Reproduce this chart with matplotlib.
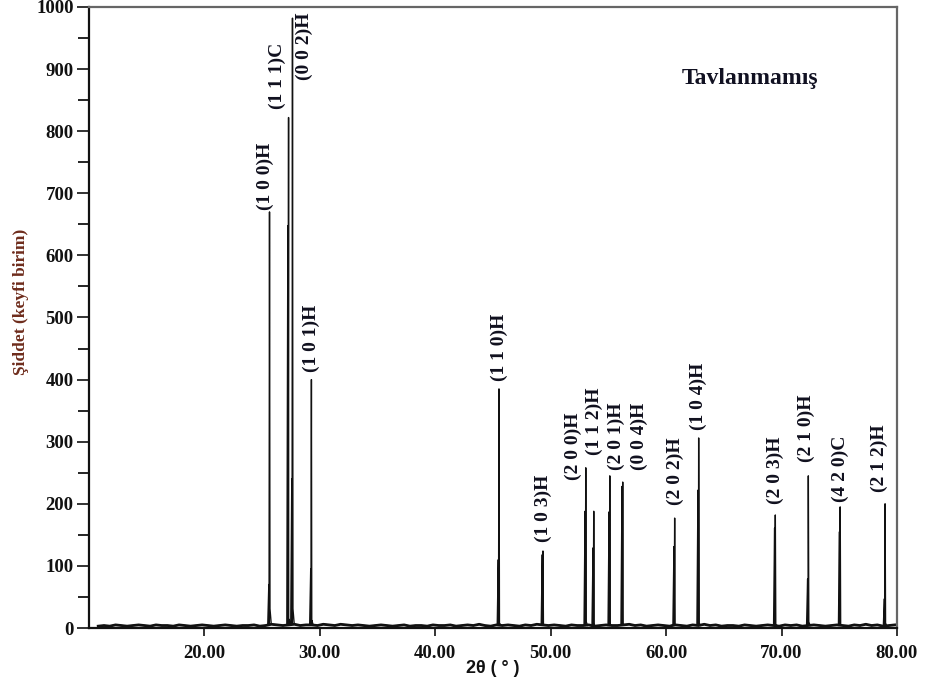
import numpy as np
import matplotlib.pyplot as plt

# peak data
peak_pos = [25.64, 27.29, 27.63, 29.27, 45.52, 49.33, 53.04, 53.73,
            55.12, 56.24, 60.74, 62.82, 69.46, 72.32, 75.08, 78.97]
peak_int = [670, 822, 982, 400, 385, 124, 258, 188,
            245, 235, 177, 306, 182, 245, 195, 200]
peak_k2 = [70, 648, 240, 95, 110, 118, 188, 129,
           187, 228, 131, 222, 161, 79, 155, 47]
peak_tail = [31, 14, 31, 12, 8, 6, 10, 8, 6, 8, 6, 8, 6, 10, 6, 8]
peak_labels = ["(1 0 0)H", "(1 1 1)C", "(0 0 2)H", "(1 0 1)H", "(1 1 0)H",
               "(1 0 3)H", "(2 0 0)H", "(1 1 2)H", "(2 0 1)H", "(0 0 4)H",
               "(2 0 2)H", "(1 0 4)H", "(2 0 3)H", "(2 1 0)H", "(4 2 0)C",
               "(2 1 2)H"]

# background counts, every 0.5 degree from 10.8
bg_start = 10.8
bg = [3, 4, 3, 5, 4, 3, 4, 5, 4, 3,
      5, 4, 4, 3, 5, 4, 3, 4, 5, 4,
      3, 4, 5, 4, 3, 4, 4, 5, 3, 4,
      6, 5, 4, 5, 6, 4, 5, 5, 4, 6,
      5, 4, 6, 5, 4, 5, 4, 3, 4, 5,
      4, 3, 4, 5, 3, 4, 4, 3, 5, 4,
      4, 5, 3, 4, 5, 4, 6, 4, 3, 5,
      4, 5, 4, 3, 5, 4, 6, 5, 4, 5,
      4, 3, 5, 4, 4, 5, 3, 4, 5, 4,
      4, 5, 6, 4, 5, 3, 4, 5, 4, 3,
      5, 4, 3, 5, 4, 6, 4, 5, 3, 4,
      4, 3, 5, 4, 3, 4, 5, 4, 3, 5,
      4, 5, 3, 4, 5, 4, 3, 4, 5, 4,
      3, 5, 4, 6, 4, 5, 3, 4, 5]

bg_x = bg_start + 0.5 * np.arange(len(bg))

# build the trace
xs = list(bg_x)
ys = list(bg)
for p, h, k2, t in zip(peak_pos, peak_int, peak_k2, peak_tail):
    b = bg[min(int(round((p - bg_start) / 0.5)), len(bg) - 1)]
    xs += [p - 0.15, p - 0.06, p - 0.04, p, p + 0.04, p + 0.15]
    ys += [b, k2, b, h, t, b]
order = np.argsort(xs, kind="stable")
xs = np.array(xs)[order]
ys = np.array(ys)[order]

fig = plt.figure(figsize=(9.25, 6.85), dpi=100)
ax = fig.add_axes([0.0962, 0.0832, 0.8735, 0.9066])

# background drawn heavier, like the dense noise of the scan
ax.plot(bg_x, bg, color="#111111", lw=2.0)
ax.plot(xs, ys, color="#111111", lw=1.0)

# label offsets in pixels (dx, dy) from each peak top
label_off = {0: (-4, 2), 1: (-11, 9), 2: (12, -62), 5: (0, 9), 6: (-12, -12),
             7: (1, 56), 8: (7, 6), 9: (17, 12), 10: (1, 13), 12: (0, 11),
             13: (-2, 14), 14: (0, 5), 15: (-6, 12)}
for i, (p, h, lab) in enumerate(zip(peak_pos, peak_int, peak_labels)):
    dx, dy = label_off.get(i, (0, 8))
    ax.annotate(lab, xy=(p, h), xytext=(dx, dy), textcoords="offset pixels",
                rotation=90, ha="center", va="bottom",
                fontsize=14, fontweight="bold", family="Liberation Serif",
                color="#10101e")

ax.text(0.818, 0.885, "Tavlanmamış", transform=ax.transAxes,
        ha="center", va="center", fontsize=17, fontweight="bold",
        family="Liberation Serif", color="#111122")

ax.set_xlim(10, 80)
ax.set_ylim(0, 1000)
ax.set_xticks(np.arange(20, 81, 10))
ax.set_xticklabels(["%.2f" % v for v in np.arange(20, 81, 10)])
ax.set_yticks(np.arange(0, 1001, 100))
ax.set_yticks(np.arange(50, 1000, 100), minor=True)

ax.tick_params(axis="x", direction="out", length=6, width=1.2, pad=6,
               labelsize=13.5, colors="#111111")
ax.tick_params(axis="y", which="major", direction="out", length=9, width=1.2,
               pad=2, labelsize=13.5, colors="#111111")
ax.tick_params(axis="y", which="minor", direction="out", length=8, width=1.2)
for lbl in ax.get_xticklabels() + ax.get_yticklabels():
    lbl.set_family("Liberation Serif")
    lbl.set_fontweight("bold")

for s in ["left", "bottom"]:
    ax.spines[s].set_color("#111111")
    ax.spines[s].set_linewidth(1.6)
for s in ["top", "right"]:
    ax.spines[s].set_color("#666666")
    ax.spines[s].set_linewidth(1.6)

ax.set_xlabel("2θ ( ° )", fontsize=13, fontweight="bold",
              family="Liberation Sans", color="#111111")
ax.xaxis.set_label_coords(0.5, -0.052)
ax.xaxis.label.set_va("top")
ax.set_ylabel("Şiddet (keyfi birim)", fontsize=12.5, fontweight="bold",
              family="Liberation Serif", color="#6e2c1c")
ax.yaxis.set_label_coords(-0.084, 0.525)
ax.yaxis.label.set_va("center")

fig.savefig("out.png", dpi=100)
